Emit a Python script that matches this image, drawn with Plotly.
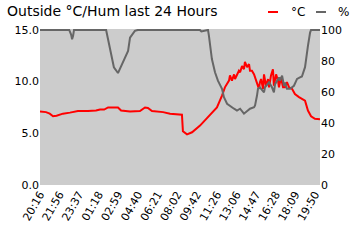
import plotly.graph_objects as go

# minutes after 20:16
temp_t = [0, 31, 50, 67, 85, 103, 118, 154, 175, 195, 247, 288, 309, 330, 350, 401, 417, 463,
          514, 540, 555, 576, 633, 669, 730, 735, 756, 782, 823, 874, 910, 936, 951, 972, 977,
          987, 998, 1003, 1013, 1023, 1029, 1039, 1049, 1054, 1065, 1075, 1080, 1090, 1101,
          1106, 1116, 1126, 1131, 1137, 1147, 1152, 1162, 1173, 1178, 1188, 1198, 1203, 1214,
          1224, 1229, 1239, 1250, 1260, 1270, 1281, 1296, 1311, 1332, 1347, 1363, 1378, 1394,
          1414, 1440]
temp_v = [7.1, 7.05, 6.9, 6.65, 6.7, 6.8, 6.9, 7.0, 7.1, 7.15, 7.15, 7.2, 7.3, 7.3, 7.5, 7.5,
          7.2, 7.1, 7.15, 7.5, 7.45, 7.15, 7.05, 6.9, 6.8, 5.2, 4.9, 5.1, 5.75, 6.8, 7.5, 8.65,
          9.45, 10.1, 10.6, 10.1, 10.7, 10.25, 10.6, 11.05, 10.9, 11.5, 11.2, 11.9, 11.4, 11.7,
          11.05, 11.05, 10.7, 10.4, 9.95, 9.3, 9.95, 10.25, 9.3, 10.7, 9.6, 10.25, 9.45, 10.6,
          11.2, 9.6, 10.7, 10.1, 9.45, 10.4, 9.45, 9.45, 9.95, 9.45, 9.3, 8.8, 8.5, 8.3, 8.15,
          7.2, 6.65, 6.4, 6.35]

hum_t = [0, 150, 160, 165, 170, 175, 340, 350, 360, 370, 380, 401, 417, 437, 453, 463, 488,
         503, 822, 830, 864, 869, 874, 884, 900, 915, 936, 946, 962, 977, 998, 1013, 1029,
         1049, 1065, 1080, 1101, 1106, 1116, 1121, 1131, 1152, 1157, 1178, 1193, 1203, 1209,
         1229, 1234, 1245, 1255, 1260, 1270, 1286, 1306, 1322, 1337, 1347, 1363, 1373, 1378,
         1389, 1394, 1440]
hum_v = [100, 100, 97, 94, 96, 100, 100, 94, 87.6, 81.2, 75.9, 72.2, 76.9, 82.2, 86.5, 95,
         99.4, 100, 100, 99, 100, 96, 89.7, 81.2, 72.7, 67.3, 62, 56.6, 52.4, 51.3, 49.2, 48,
         49.2, 46, 48, 49.2, 50.2, 51.3, 57.7, 62, 63, 59.8, 63, 66.2, 63, 59.8, 65, 69.4,
         67.3, 70.5, 64, 66, 62, 62, 64, 68.4, 69.4, 70, 76, 83.3, 89.7, 98.3, 100, 100]

tick_minutes = [0, 100, 201, 302, 403, 504, 605, 706, 806, 910, 1010, 1111, 1212, 1313, 1414]
tick_labels = ["20:16", "21:56", "23:37", "01:18", "02:59", "04:40", "06:21", "08:02",
               "09:42", "11:26", "13:06", "14:47", "16:28", "18:09", "19:50"]

W, H = 360, 240
ML, MR, MT, MB = 40, 40, 29, 55
FONT = "DejaVu Sans"

fig = go.Figure()
fig.add_trace(go.Scatter(x=hum_t, y=hum_v, yaxis="y2", mode="lines",
                         line=dict(color="#666666", width=2), name="%"))
fig.add_trace(go.Scatter(x=temp_t, y=temp_v, mode="lines",
                         line=dict(color="#ff0000", width=2), name="°C"))

def px2paper(x, y):
    pw, ph = W - ML - MR, H - MT - MB
    return (x - ML) / pw, (H - MB - y) / ph

# custom compact legend
shapes, annots = [], []
for (x0, x1, tx, label, col) in [(268, 278, 289, "°C", "#ff0000"), (316, 326, 336, "%", "#666666")]:
    a, yy = px2paper(x0, 12)
    b, _ = px2paper(x1, 12)
    shapes.append(dict(type="line", xref="paper", yref="paper", x0=a, x1=b, y0=yy, y1=yy,
                       line=dict(color=col, width=2)))
    t, _ = px2paper(tx, 12)
    annots.append(dict(xref="paper", yref="paper", x=t, y=yy, text=label, showarrow=False,
                       xanchor="left", yanchor="middle", font=dict(family=FONT, size=12, color="#000")))

fig.update_layout(
    width=W, height=H,
    margin=dict(l=ML, r=MR, t=MT, b=MB),
    paper_bgcolor="white", plot_bgcolor="#cccccc",
    showlegend=False,
    title=dict(text="Outside °C/Hum last 24 Hours", x=7 / W, y=1 - 11 / H,
               xanchor="left", yanchor="middle", font=dict(family=FONT, size=14, color="#000")),
    font=dict(family=FONT, size=11, color="#000"),
    xaxis=dict(range=[0, 1440], tickvals=tick_minutes, ticktext=tick_labels, tickangle=-60,
               showgrid=False, zeroline=False, showline=False, ticks="",
               tickfont=dict(size=11)),
    yaxis=dict(range=[0, 15.09], tickvals=[0, 5, 10, 15], tickformat=".1f",
               showgrid=False, zeroline=False, showline=False, ticks="", ticklen=0),
    yaxis2=dict(range=[0, 100.6], tickvals=[0, 20, 40, 60, 80, 100], overlaying="y",
                side="right", showgrid=False, zeroline=False, showline=False, ticks=""),
    shapes=shapes, annotations=annots,
)

fig.write_html("out.html")
